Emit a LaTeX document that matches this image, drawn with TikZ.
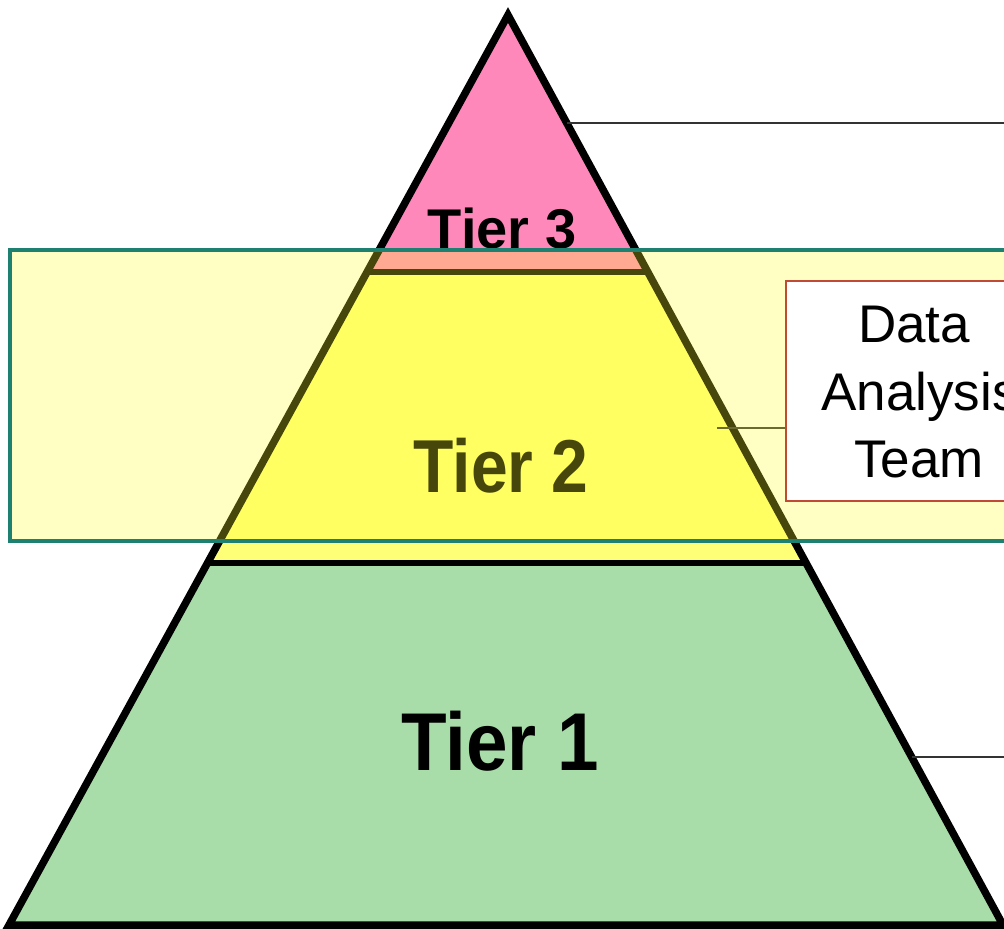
\documentclass[tikz,border=0pt]{standalone}
\usepackage{fontspec}
\setmainfont{Liberation Sans}
\usetikzlibrary{calc}
\definecolor{tierpink}{HTML}{FF88BB}
\definecolor{tieryellow}{HTML}{FFFF77}
\definecolor{tiergreen}{HTML}{A8DCA8}
\definecolor{bandteal}{HTML}{1E8070}
\definecolor{bandfill}{HTML}{FFFF28}
\definecolor{boxred}{HTML}{C04A35}
\definecolor{linkgray}{HTML}{333333}
\tikzset{
  tierlabel/.style={font=\bfseries, text=black, anchor=base, inner sep=0pt, transform shape},
  outline/.style={draw=black, line width=7.5pt, line join=miter},
  tierline/.style={draw=black, line width=6.5pt},
  link/.style={draw=linkgray, line width=1.5pt},
  teambox/.style={draw=boxred, line width=1.3pt, fill=white, minimum width=280pt, minimum height=220pt, inner sep=0pt},
  teamtext/.style={font=\fontsize{53}{64}\selectfont, anchor=base, inner sep=0pt}
}
\begin{document}
\begin{tikzpicture}[x=1pt,y=-1pt]
\useasboundingbox (0,0) rectangle (1004,929);
\begin{scope}
\clip (0,0) rectangle (1004,929);
\fill[white] (0,0) rectangle (1004,929);
% pyramid corners
\coordinate (A) at (508,15);
\coordinate (BL) at (9,925);
\coordinate (BR) at (1003,925);
\coordinate (L3) at ($(A)!0.2824!(BL)$);
\coordinate (R3) at ($(A)!0.2824!(BR)$);
\coordinate (L2) at ($(A)!0.6022!(BL)$);
\coordinate (R2) at ($(A)!0.6022!(BR)$);
% fills
\fill[tierpink] (A) -- (R3) -- (L3) -- cycle;
\fill[tieryellow] (L3) -- (R3) -- (R2) -- (L2) -- cycle;
\fill[tiergreen] (L2) -- (R2) -- (BR) -- (BL) -- cycle;
% tier lines and outline
\draw[tierline] (L3) -- (R3);
\draw[tierline] (L2) -- (R2);
\draw[outline] (A) -- (BR) -- (BL) -- cycle;
% labels
\node[tierlabel, font=\fontsize{56}{60}\selectfont\bfseries] (t3) at (502,248) {Tier 3};
\node[tierlabel, font=\fontsize{75}{80}\selectfont\bfseries, xscale=0.88] (t2) at (501,492) {Tier 2};
\node[tierlabel, font=\fontsize{82}{86}\selectfont\bfseries, xscale=0.91] (t1) at (500,770) {Tier 1};
% team box and middle connector
\node[teambox] (dat) at (926,391) {};
\coordinate (m0) at (717,428);
\draw[link] (m0) -- (m0 -| dat.west);
% translucent band
\fill[bandfill, fill opacity=0.28] (10,250) rectangle (1030,541);
\draw[bandteal, line width=3.5pt] (10,250) rectangle (1030,541);
% redraw the box above the band
\node[teambox] (dat2) at (926,391) {};
\node[teamtext] (d1) at (914,342) {Data};
\node[teamtext] (d2) at (920,410) {Analysis};
\node[teamtext] (d3) at (919,477) {Team};
% side connectors
\coordinate (c3) at ($(A)!0.1187!(BR)$);
\coordinate (c3e) at (1010,0 |- c3);
\draw[link] (c3) -- (c3e);
\coordinate (c1) at ($(A)!0.8154!(BR)$);
\coordinate (c1e) at (1010,0 |- c1);
\draw[link] (c1) -- (c1e);
\end{scope}
\end{tikzpicture}
\end{document}
